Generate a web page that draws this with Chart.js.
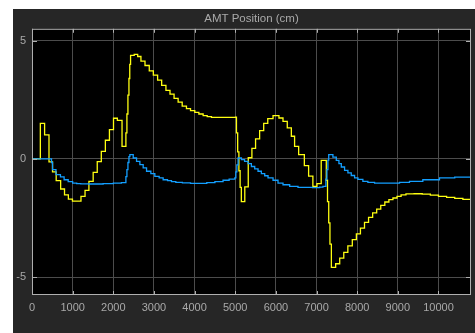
<!DOCTYPE html>
<html>
<head>
<meta charset="utf-8">
<title>AMT Position (cm)</title>
<script src="https://cdn.jsdelivr.net/npm/chart.js@4.4.0/dist/chart.umd.min.js"></script>
<style>
    body { margin: 0; background: #ffffff; }
    #scope { position: absolute; left: 13px; top: 9px; width: 462px; height: 324px; background: #262626; }
    #scope canvas { display: block; }
</style>
</head>
<body>
<div id="scope"><canvas id="positionChart" width="462" height="324"></canvas></div>
<script>
// axis ticks
const xTicks = [0, 1000, 2000, 3000, 4000, 5000, 6000, 7000, 8000, 9000, 10000];
const yTicks = [-5, 0, 5];

// first signal (yellow): time of each step and the value held from it
const yellowTime = [0, 205, 310, 418, 505, 595, 705, 800, 895, 995, 1205, 1305, 1400, 1505, 1605, 1705, 1805, 1905, 2005, 2100,
    2215, 2310, 2335, 2360, 2385, 2405, 2425, 2515, 2600, 2680, 2780, 2885, 2985, 3090, 3190, 3295, 3395, 3495, 3595, 3695,
    3800, 3900, 4005, 4105, 4210, 4310, 4415, 5005, 5030, 5060, 5090, 5120, 5150, 5235, 5320, 5410, 5500, 5600, 5700, 5800,
    5930, 6075, 6175, 6280, 6380, 6460, 6560, 6700, 6805, 6910, 7010, 7115, 7216, 7240, 7270, 7300, 7330, 7365, 7470, 7570,
    7670, 7770, 7880, 7980, 8080, 8180, 8280, 8380, 8480, 8580, 8680, 8780, 8880, 8980, 9080, 9200, 9400, 9600, 9800, 10000,
    10200, 10400, 10600, 10800];
const yellowValue = [0, 1.5, 1.02, -0.12, -0.55, -0.92, -1.27, -1.52, -1.7, -1.78, -1.58, -1.33, -0.95, -0.57, -0.11, 0.32, 0.79, 1.24, 1.72, 1.63,
    0.53, 1.1, 1.9, 2.7, 3.4, 4.0, 4.38, 4.42, 4.33, 4.13, 3.95, 3.72, 3.54, 3.33, 3.11, 2.9, 2.74, 2.56, 2.4, 2.23,
    2.13, 2.04, 1.97, 1.9, 1.83, 1.79, 1.76, 1.77, 1.1, 0.3, -0.5, -1.2, -1.8, -1.18, 0.05, 0.45, 0.85, 1.2, 1.5, 1.7,
    1.83, 1.73, 1.59, 1.31, 0.96, 0.53, 0.18, -0.28, -0.73, -1.16, -1.04, -0.06, -0.06, -0.9, -1.8, -2.7, -3.6, -4.58, -4.43, -4.19,
    -3.95, -3.67, -3.41, -3.17, -2.92, -2.68, -2.47, -2.28, -2.12, -1.96, -1.82, -1.72, -1.65, -1.58, -1.52, -1.48, -1.47, -1.49, -1.53, -1.58,
    -1.62, -1.67, -1.71, -1.75];

// second signal (blue)
const blueTime = [0, 480, 505, 590, 700, 790, 890, 1000, 1100, 1200, 1400, 1750, 2000, 2200, 2310, 2335, 2360, 2385, 2408, 2490,
    2572, 2654, 2735, 2818, 2924, 3022, 3128, 3226, 3334, 3432, 3538, 3700, 3900, 4300, 4500, 4700, 4850, 4990, 5015, 5040,
    5070, 5152, 5230, 5315, 5397, 5479, 5561, 5643, 5725, 5807, 5930, 6052, 6175, 6339, 6544, 6900, 7076, 7158, 7230, 7255,
    7280, 7300, 7403, 7486, 7551, 7609, 7690, 7772, 7854, 7936, 8018, 8140, 8263, 8428, 9042, 9287, 9615, 10025, 10400, 10800];
const blueValue = [0, -0.15, -0.45, -0.66, -0.76, -0.88, -0.96, -1.02, -1.04, -1.05, -1.06, -1.04, -1.02, -1.0, -0.75, -0.45, -0.15, 0.1, 0.18, 0.04,
    -0.1, -0.24, -0.38, -0.52, -0.62, -0.74, -0.8, -0.88, -0.92, -0.96, -0.99, -1.01, -1.03, -1.0, -0.96, -0.9, -0.85, -0.8, -0.55, -0.25,
    0.04, -0.03, -0.1, -0.2, -0.32, -0.42, -0.52, -0.62, -0.71, -0.8, -0.9, -1.02, -1.09, -1.16, -1.2, -1.21, -1.19, -1.16, -0.85, -0.45,
    -0.05, 0.18, 0.08, -0.06, -0.2, -0.34, -0.48, -0.59, -0.7, -0.8, -0.86, -0.95, -0.99, -1.02, -0.99, -0.95, -0.88, -0.8, -0.77, -0.76];

const axisColor = "#afafaf";
const gridColor = "#4c4c4c";
const labelColor = "#a9a9a9";

function toPoints(times, values) {
    return times.map((t, i) => ({ x: t, y: values[i] }));
}

// black plot area, frame and the small inner tick marks
const scopeFrame = {
    id: "scopeFrame",
    beforeDraw(chart) {
        const a = chart.chartArea;
        const ctx = chart.ctx;
        ctx.save();
        ctx.fillStyle = "#000000";
        ctx.fillRect(a.left, a.top, a.right - a.left, a.bottom - a.top);
        ctx.restore();
    },
    afterDraw(chart) {
        const a = chart.chartArea;
        const ctx = chart.ctx;
        const xs = chart.scales.x;
        const ys = chart.scales.y;
        ctx.save();
        ctx.strokeStyle = axisColor;
        ctx.lineWidth = 1;
        ctx.strokeRect(a.left + 0.5, a.top + 0.5, a.right - a.left - 1, a.bottom - a.top - 1);
        ctx.beginPath();
        xTicks.forEach(v => {
            const px = Math.round(xs.getPixelForValue(v)) + 0.5;
            ctx.moveTo(px, a.bottom);
            ctx.lineTo(px, a.bottom - 4);
            ctx.moveTo(px, a.top);
            ctx.lineTo(px, a.top + 4);
        });
        yTicks.forEach(v => {
            const py = Math.round(ys.getPixelForValue(v)) + 0.5;
            ctx.moveTo(a.left, py);
            ctx.lineTo(a.left + 5, py);
            ctx.moveTo(a.right, py);
            ctx.lineTo(a.right - 5, py);
        });
        ctx.stroke();
        ctx.restore();
    }
};

const tickFont = { family: "'Liberation Sans', Arial, sans-serif", size: 11 };

const ctx = document.getElementById("positionChart").getContext("2d");
new Chart(ctx, {
    type: "line",
    data: {
        datasets: [{
            label: "Signal 2",
            data: toPoints(blueTime, blueValue),
            borderColor: "rgb(19, 159, 255)",
            borderWidth: 1.3,
            stepped: true,
            pointRadius: 0,
            fill: false
        }, {
            label: "Signal 1",
            data: toPoints(yellowTime, yellowValue),
            borderColor: "rgb(255, 255, 17)",
            borderWidth: 1.3,
            stepped: true,
            pointRadius: 0,
            fill: false
        }]
    },
    options: {
        responsive: false,
        animation: false,
        devicePixelRatio: 1,
        layout: { padding: { left: 0, right: 4, top: 0, bottom: 0 } },
        scales: {
            x: {
                type: "linear",
                min: 0,
                max: 10800,
                afterFit: function (scale) { scale.height = 38; },
                afterBuildTicks: function (scale) { scale.ticks = xTicks.map(v => ({ value: v })); },
                grid: { color: gridColor, drawTicks: false },
                border: { display: false },
                ticks: {
                    autoSkip: false,
                    maxRotation: 0,
                    padding: 6,
                    color: labelColor,
                    font: tickFont,
                    callback: function (value) { return String(value); }
                }
            },
            y: {
                type: "linear",
                min: -5.75,
                max: 5.5,
                afterFit: function (scale) { scale.width = 19; },
                afterBuildTicks: function (scale) { scale.ticks = yTicks.map(v => ({ value: v })); },
                grid: { color: gridColor, drawTicks: false },
                border: { display: false },
                ticks: {
                    autoSkip: false,
                    padding: 6,
                    color: labelColor,
                    font: tickFont,
                    callback: function (value) { return String(value); }
                }
            }
        },
        plugins: {
            legend: { display: false },
            tooltip: { enabled: false },
            title: {
                display: true,
                text: "AMT Position (cm)",
                fullSize: false,
                color: labelColor,
                font: { family: "'Liberation Sans', Arial, sans-serif", size: 11.5, weight: "normal" },
                padding: { top: 3, bottom: 3 }
            }
        }
    },
    plugins: [scopeFrame]
});
</script>
</body>
</html>
